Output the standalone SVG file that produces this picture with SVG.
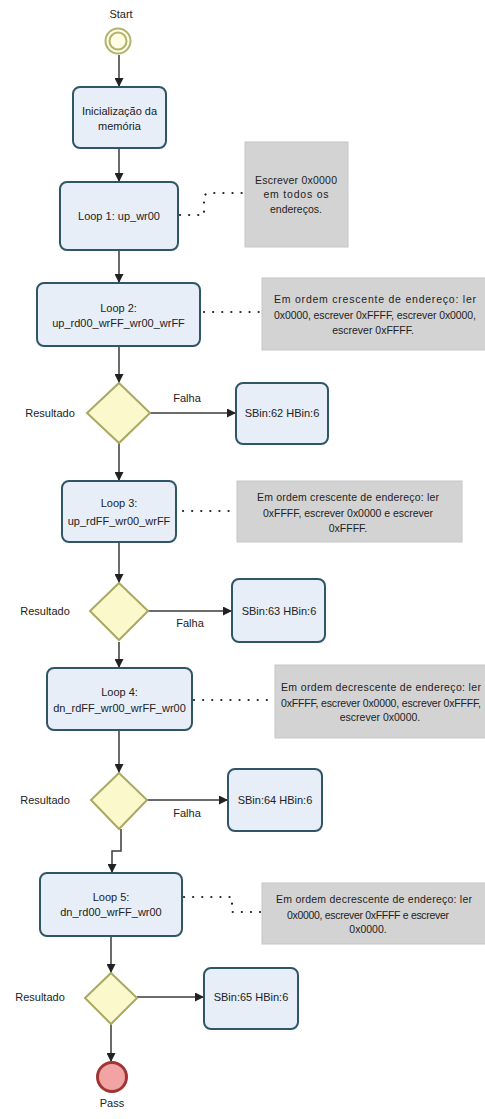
<svg xmlns="http://www.w3.org/2000/svg" width="485" height="1119" viewBox="0 0 485 1119">
  <defs>
    <marker id="arrow" viewBox="0 0 10 10" refX="10" refY="5" markerWidth="9" markerHeight="9" markerUnits="userSpaceOnUse" orient="auto">
      <path d="M0,0 L10,5 L0,10 Z" fill="#222"/>
    </marker>
    <style>
      text { font-family: "Liberation Sans", Arial, sans-serif; font-size: 11px; fill: #222; text-anchor: middle; }
      .note text { font-size: 10.5px; }
      .task { fill: #e7eef8; stroke: #2f5666; stroke-width: 2; }
      .gate { fill: #fbf9cc; stroke: #aaa862; stroke-width: 2; }
      .note rect { fill: #d3d3d3; stroke: #c6c6c6; stroke-width: 1; }
      .flow { fill: none; stroke: #3a3a3a; stroke-width: 1.5; marker-end: url(#arrow); }
      .assoc { fill: none; stroke: #222; stroke-width: 2.2; stroke-linecap: round; stroke-dasharray: 0.1 9; }
    </style>
  </defs>
  <rect width="485" height="1119" fill="#ffffff"/>

  <!-- sequence flows and associations -->
  <g id="connectors">
    <path class="flow" d="M119,55 V87"/>
    <path class="flow" d="M119,148 V182"/>
    <path class="flow" d="M119,250 V283"/>
    <path class="flow" d="M119,346 V383"/>
    <path class="flow" d="M150,413 H236"/>
    <path class="flow" d="M119,443 V481"/>
    <path class="flow" d="M148,611 H232"/>
    <path class="flow" d="M119,542 V583"/>
    <path class="flow" d="M147,800 H228"/>
    <path class="flow" d="M119,642 V668"/>
    <path class="flow" d="M119,730 V773"/>
    <path class="flow" d="M121,829 V851 H112 V873"/>
    <path class="flow" d="M111,936 V973"/>
    <path class="flow" d="M137,997 H204"/>
    <path class="flow" d="M111,1024 V1062"/>

    <path class="assoc" d="M180,215 H204 V195 L210,193 H245"/>
    <path class="assoc" d="M204,312 H262"/>
    <path class="assoc" d="M183,511 H237"/>
    <path class="assoc" d="M194,700 H275"/>
    <path class="assoc" d="M184,897 H232 V912 H262"/>
  </g>

  <g id="start">
    <circle cx="118" cy="41" r="12.5" fill="#fdfde6" stroke="#b3b26c" stroke-width="2"/>
    <circle cx="118" cy="41" r="8.5" fill="none" stroke="#b3b26c" stroke-width="2"/>
    <text x="121" y="18">Start</text>
  </g>

  <g id="init">
    <rect class="task" x="73" y="87" width="93" height="61" rx="7"/>
    <text x="119.5" y="115">Inicialização da</text>
    <text x="119.5" y="130">memória</text>
  </g>

  <g id="loop1">
    <rect class="task" x="60" y="182" width="118" height="68" rx="7"/>
    <text x="119" y="220">Loop 1: up_wr00</text>
  </g>
  <g id="note1" class="note">
    <rect x="245" y="142" width="103" height="105"/>
    <text x="296" y="184" textLength="82" lengthAdjust="spacing">Escrever 0x0000</text>
    <text x="296" y="198" textLength="65" lengthAdjust="spacing">em todos os</text>
    <text x="296" y="213">endereços.</text>
  </g>

  <g id="loop2">
    <rect class="task" x="37" y="283" width="163" height="63" rx="7"/>
    <text x="118.5" y="312">Loop 2:</text>
    <text x="118.5" y="327">up_rd00_wrFF_wr00_wrFF</text>
  </g>
  <g id="note2" class="note">
    <rect x="262" y="278" width="230" height="72"/>
    <text x="375" y="303" textLength="202" lengthAdjust="spacing">Em ordem crescente de endereço: ler</text>
    <text x="375" y="319" textLength="202" lengthAdjust="spacing">0x0000, escrever 0xFFFF, escrever 0x0000,</text>
    <text x="373" y="334">escrever 0xFFFF.</text>
  </g>

  <g id="gate1">
    <path class="gate" d="M119,383 L150,413 L119,443 L87,413 Z"/>
    <text x="50" y="417">Resultado</text>
    <text x="187" y="402">Falha</text>
  </g>
  <g id="bin62">
    <rect class="task" x="236" y="383" width="92" height="61" rx="7"/>
    <text x="282" y="417">SBin:62 HBin:6</text>
  </g>

  <g id="loop3">
    <rect class="task" x="62" y="481" width="114" height="61" rx="7"/>
    <text x="119" y="507">Loop 3:</text>
    <text x="119" y="525">up_rdFF_wr00_wrFF</text>
  </g>
  <g id="note3" class="note">
    <rect x="237" y="481" width="225" height="61"/>
    <text x="348" y="501" textLength="182" lengthAdjust="spacing">Em ordem crescente de endereço: ler</text>
    <text x="348" y="517" textLength="170" lengthAdjust="spacing">0xFFFF, escrever 0x0000 e escrever</text>
    <text x="348" y="532">0xFFFF.</text>
  </g>

  <g id="gate2">
    <path class="gate" d="M119,583 L148,611 L119,640 L90,611 Z"/>
    <text x="45" y="615">Resultado</text>
    <text x="190" y="627">Falha</text>
  </g>
  <g id="bin63">
    <rect class="task" x="232" y="579" width="93" height="63" rx="7"/>
    <text x="279" y="615">SBin:63 HBin:6</text>
  </g>

  <g id="loop4">
    <rect class="task" x="47" y="668" width="145" height="62" rx="7"/>
    <text x="119.5" y="696">Loop 4:</text>
    <text x="119.5" y="712">dn_rdFF_wr00_wrFF_wr00</text>
  </g>
  <g id="note4" class="note">
    <rect x="275" y="665" width="230" height="73"/>
    <text x="381" y="691" textLength="200" lengthAdjust="spacing">Em ordem decrescente de endereço: ler</text>
    <text x="381" y="707" textLength="200" lengthAdjust="spacing">0xFFFF, escrever 0x0000, escrever 0xFFFF,</text>
    <text x="380" y="721">escrever 0x0000.</text>
  </g>

  <g id="gate3">
    <path class="gate" d="M119,773 L147,800 L119,829 L91,800 Z"/>
    <text x="45" y="804">Resultado</text>
    <text x="187" y="817">Falha</text>
  </g>
  <g id="bin64">
    <rect class="task" x="228" y="769" width="94" height="62" rx="7"/>
    <text x="275" y="804">SBin:64 HBin:6</text>
  </g>

  <g id="loop5">
    <rect class="task" x="40" y="873" width="142" height="63" rx="7"/>
    <text x="111" y="901">Loop 5:</text>
    <text x="111" y="916">dn_rd00_wrFF_wr00</text>
  </g>
  <g id="note5" class="note">
    <rect x="262" y="883" width="230" height="61"/>
    <text x="374" y="903" textLength="196" lengthAdjust="spacing">Em ordem decrescente de endereço: ler</text>
    <text x="368" y="919" textLength="162" lengthAdjust="spacing">0x0000, escrever 0xFFFF e escrever</text>
    <text x="368" y="933">0x0000.</text>
  </g>

  <g id="gate4">
    <path class="gate" d="M111,973 L137,998 L111,1024 L85,998 Z"/>
    <text x="40" y="1001">Resultado</text>
  </g>
  <g id="bin65">
    <rect class="task" x="204" y="968" width="94" height="61" rx="7"/>
    <text x="251" y="1001">SBin:65 HBin:6</text>
  </g>

  <g id="end">
    <circle cx="112" cy="1077" r="14.5" fill="#f2a3a3" stroke="#a33434" stroke-width="3"/>
    <text x="112" y="1107">Pass</text>
  </g>
</svg>
